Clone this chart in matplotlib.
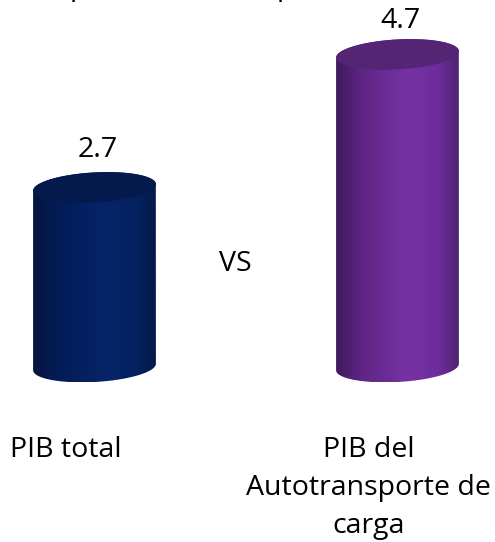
import numpy as np
import matplotlib
matplotlib.use("Agg")
import matplotlib.pyplot as plt
from matplotlib.colors import LinearSegmentedColormap
from matplotlib.path import Path
from matplotlib.patches import PathPatch

plt.rcParams['font.family'] = ['Open Sans', 'DejaVu Sans']

categorias = ['PIB total', 'PIB del\nAutotransporte de\ncarga']
valores = [2.7, 4.7]
etiquetas = ['2.7', '4.7']

colores_cuerpo = [
    ['#07153f', '#031c56', '#062468', '#04215f', '#061848'],
    ['#3e1a5c', '#5e2583', '#7632a5', '#6c2c9c', '#4e2470'],
]
colores_tapa = ['#041a4c', '#542575']
paradas = [0.0, 0.2, 0.58, 0.84, 1.0]
subida = [8, 4]  # px entre la tapa y la etiqueta

# escala de la figura: 303 px entre columnas, 66.5 px por unidad
PX_X = 303.0
PX_Y = 66.5
ANCHO = 61.5   # semieje mayor en px
ALTO = 15.0    # semieje menor en px
GIRO = np.radians(3.2)
TAM = 20.5

fig = plt.figure(figsize=(4.95, 5.42), dpi=100)
ax = fig.add_axes([0, 0, 1, 1])
ax.axis('off')


def elipse(x0, y0, t):
    ex = ANCHO * np.cos(t)
    ey = ALTO * np.sin(t)
    px = ex * np.cos(GIRO) - ey * np.sin(GIRO)
    py = ex * np.sin(GIRO) + ey * np.cos(GIRO)
    return x0 + px / PX_X, y0 + py / PX_Y


for i, v in enumerate(valores):
    # el cuerpo llega hasta el arco superior de la tapa, asi no queda costura
    t = np.linspace(np.pi, 2 * np.pi, 80)
    bx, by = elipse(i, 0, t)
    tx, ty = elipse(i, v, t[::-1] - np.pi)
    tx, ty = tx[::-1], ty[::-1]
    cuerpo = Path(np.c_[np.r_[bx, tx], np.r_[by, ty]])

    cmap = LinearSegmentedColormap.from_list('c%d' % i, list(zip(paradas, colores_cuerpo[i])))
    grad = np.linspace(0, 1, 256).reshape(1, -1)
    w = ANCHO / PX_X
    im = ax.imshow(grad, cmap=cmap, aspect='auto', extent=[i - w, i + w, by.min(), ty.max()], zorder=2)
    im.set_clip_path(PathPatch(cuerpo, transform=ax.transData))

    t2 = np.linspace(0, 2 * np.pi, 160)
    cx, cy = elipse(i, v, t2)
    ax.fill(cx, cy, color=colores_tapa[i], lw=0, zorder=3)

    ax.annotate(etiquetas[i], (i, cy.max()), xytext=(3, subida[i]), textcoords='offset pixels',
                ha='center', va='bottom', fontsize=TAM, color='black')
    ax.annotate(categorias[i], (i, 0), xytext=(-29, -69), textcoords='offset pixels',
                ha='center', va='top', fontsize=TAM, color='black', linespacing=1.47)

ax.set_xlim(-94.5 / PX_X, (495 - 94.5) / PX_X)
ax.set_ylim(-(542 - 367) / PX_Y, 367 / PX_Y)

ax.text(0.464, (367 - 264) / PX_Y, 'VS', ha='center', va='center', fontsize=TAM, color='black')

# restos del titulo recortado en el borde superior
for x, s in [(70, 'p'), (277, 'p'), (487, ',')]:
    fig.text(x / 495, 1 + 5 / 542, s, ha='left', va='baseline', fontsize=TAM, color='black')

fig.savefig('out.png', dpi=100)
